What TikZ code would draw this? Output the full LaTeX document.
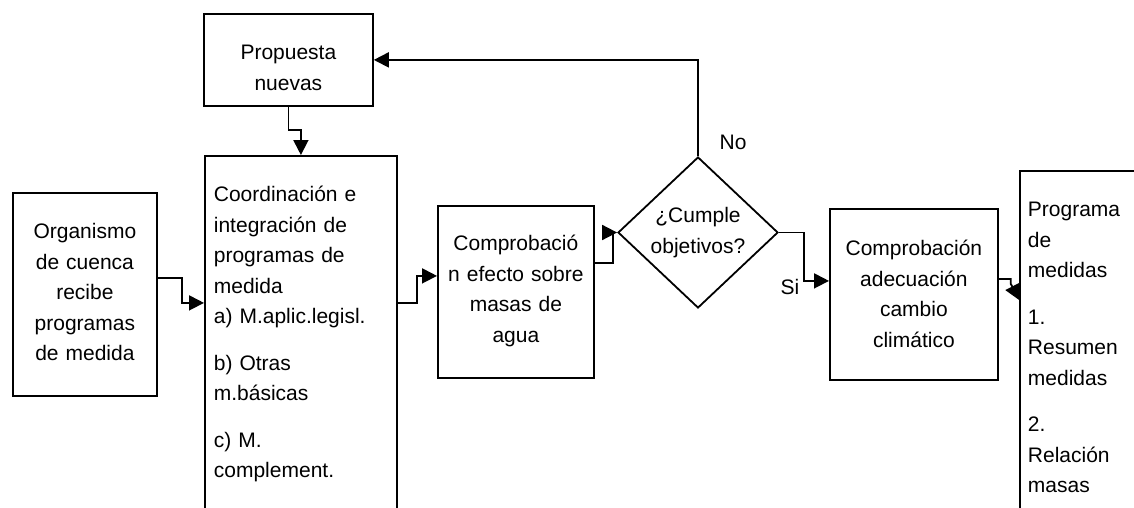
\documentclass[tikz,border=0pt]{standalone}
\usepackage{fontspec}
\setmainfont{Liberation Sans}
\usetikzlibrary{arrows.meta,shapes.geometric}

\begin{document}
\begin{tikzpicture}[x=1pt, y=-1pt, >={Triangle[length=15pt,width=15pt]}, line width=1.8pt,
    font=\fontsize{21pt}{30.5pt}\selectfont,
    proc/.style={draw, rectangle, anchor=north west, inner sep=0pt, align=center,
        execute at begin node={\fontsize{21pt}{30.5pt}\selectfont}},
    listbox/.style={proc, align=left},
    decision/.style={draw, diamond, inner sep=0pt, minimum width=160pt, minimum height=151pt,
        align=center, text width=100pt, execute at begin node={\fontsize{21pt}{30.5pt}\selectfont}}]
    \useasboundingbox (0,0) rectangle (1134,508);
    \clip (0,0) rectangle (1134,508);

    % Nodes {prop, org, coord, comp, dec, clim, prog}
    \node [proc, text width=169pt, text height=46pt, text depth=46pt]  (prop)  at (203,13)  {Propuesta\\nuevas};
    \node [proc, text width=144pt, text height=46pt, text depth=157pt] (org)   at (12,192)  {Organismo\\de cuenca\\recibe\\programas\\de medida};
    \node [listbox, inner xsep=9pt, text width=174pt, text height=46pt, text depth=314pt] (coord) at (204,155)
        {Coordinación e\\integración de\\programas de\\medida\\a) M.aplic.legisl.\\[16pt]b) Otras\\m.básicas\\[16pt]c) M.\\complement.};
    \node [proc, text width=156pt, text height=45pt, text depth=127pt] (comp)  at (437,205) {Comprobació\\n efecto sobre\\masas de\\agua};
    \node [decision]                                                   (dec)   at (698,232.5) {¿Cumple\\objetivos?};
    \node [proc, text width=168pt, text height=47pt, text depth=124pt] (clim)  at (829,208) {Comprobación\\adecuación\\cambio\\climático};
    \node [listbox, inner xsep=8pt, text width=134pt, text height=46pt, text depth=360pt] (prog) at (1019,170)
        {Programa\\de\\medidas\\[16pt]1.\\Resumen\\medidas\\[16pt]2.\\Relación\\masas};

    % Labels
    \node (no) at (733,142) {No};
    \node (si) at (790,287) {Si};

    % Paths
    \draw [->] (prop.south) -- ++(0,23) -| (coord.north);
    \draw [->] ([yshift=16.5pt]org.east) -- ++(24,0) |- ([yshift=33pt]coord.west);
    \draw [->] ([yshift=33pt]coord.east) -- ++(19,0) |- ([yshift=16pt]comp.west);
    \draw [->] ([yshift=29pt]comp.east) -- ++(18,0) |- (dec.west);
    \draw [->] (dec.north) |- (prop.east);
    \draw [->] (dec.east) -- ++(25,0) |- ([yshift=13.5pt]clim.west);
    \draw [->] ([yshift=15.5pt]clim.east) -- ++(12,0) -- ++(0,5) -- ([yshift=74pt]prog.west);
\end{tikzpicture}
\end{document}
